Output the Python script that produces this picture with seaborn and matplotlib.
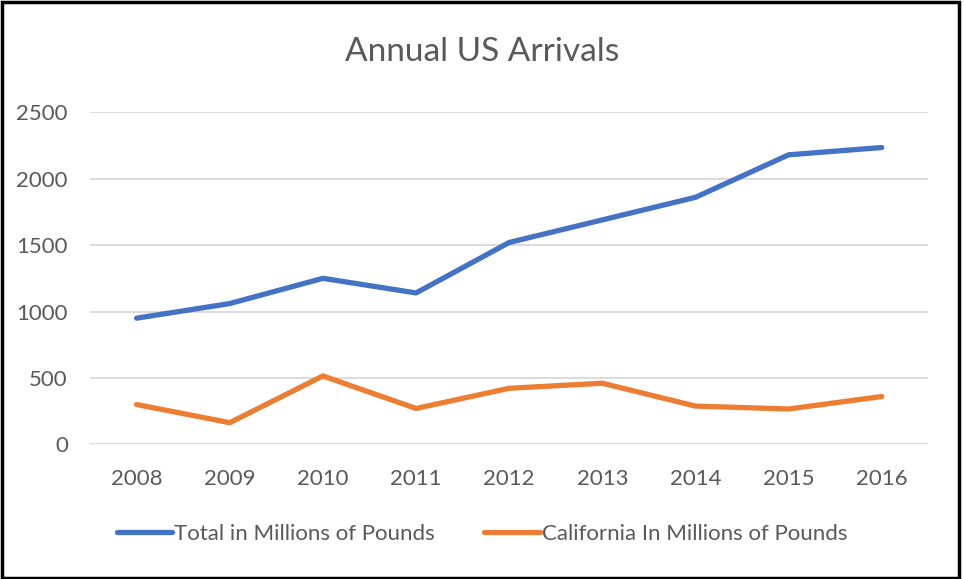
import pandas as pd
import seaborn as sns
import matplotlib.pyplot as plt
from matplotlib.patches import Rectangle

years = ['2008', '2009', '2010', '2011', '2012', '2013', '2014', '2015', '2016']
total = [950, 1060, 1250, 1140, 1520, 1690, 1860, 2180, 2235]
california = [300, 163, 515, 270, 422, 460, 288, 266, 360]
series_names = ['Total in Millions of Pounds', 'California In Millions of Pounds']
y_ticks = [0, 500, 1000, 1500, 2000, 2500]

df = pd.DataFrame({
    'year': years * 2,
    'value': total + california,
    'series': [series_names[0]] * len(years) + [series_names[1]] * len(years),
})

sns.set_theme(style='white')
plt.rcParams['font.family'] = ['Lato', 'DejaVu Sans']
text_color = '#595959'

fig = plt.figure(figsize=(9.64, 5.79), dpi=100)
ax = fig.add_axes([0.0934, 0.2326, 0.8696, 0.5734])

sns.lineplot(data=df, x='year', y='value', hue='series', sort=False,
             palette=['#4472C4', '#ED7D31'], linewidth=3.8, ax=ax,
             solid_capstyle='round', legend=False)

ax.set_xlim(-0.5, len(years) - 0.5)
ax.set_ylim(0, 2500)
ax.set_yticks(y_ticks)
ax.yaxis.grid(True, color='#D9D9D9', linewidth=1.3)
ax.set_axisbelow(True)
for s in ax.spines.values():
    s.set_visible(False)
ax.set_xlabel('')
ax.set_ylabel('')
ax.tick_params(axis='y', labelsize=16, labelcolor=text_color, pad=16, length=0)
ax.tick_params(axis='x', labelsize=16, labelcolor=text_color, pad=18, length=0)

fig.text(0.5, 1 - 52 / 579, 'Annual US Arrivals', ha='center', va='center',
         fontsize=24, color=text_color)

handles = [plt.Line2D([], [], color=c, linewidth=3.8, solid_capstyle='round')
           for c in ['#4472C4', '#ED7D31']]
leg = fig.legend(handles, series_names, loc='center', bbox_to_anchor=(0.5, 1 - 534 / 579),
                 ncol=2, frameon=False, fontsize=16, handlelength=2.5,
                 handletextpad=0.1, columnspacing=2.2)
for t in leg.get_texts():
    t.set_color(text_color)

fig.patches.append(Rectangle((0.002, 0.002), 0.993, 0.994, transform=fig.transFigure,
                             fill=False, edgecolor='black', linewidth=2.5))

fig.savefig('out.png', dpi=100)
